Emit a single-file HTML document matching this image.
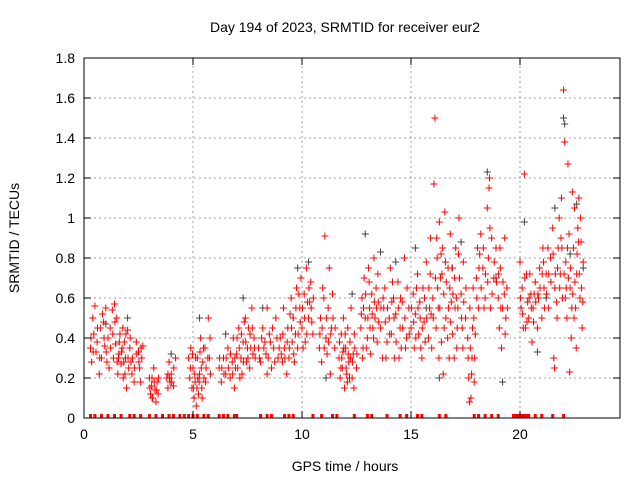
<!DOCTYPE html>
<html><head><meta charset="utf-8"><style>
html,body{margin:0;padding:0;background:#fff;}
svg{display:block;font-family:"Liberation Sans",Arial,sans-serif;}
</style></head><body>
<svg id="chart" width="640" height="480" viewBox="0 0 640 480" xmlns="http://www.w3.org/2000/svg">
<rect x="0" y="0" width="640" height="480" fill="#fff"/>
<g id="grid"></g>
<g id="marks"></g>
<rect x="84" y="58" width="536" height="360" fill="none" stroke="#000" stroke-width="1"/>
<g id="ticks"></g>
<text x="345" y="32" font-size="14" text-anchor="middle">Day 194 of 2023, SRMTID for receiver eur2</text>
<text x="345" y="471" font-size="14" text-anchor="middle">GPS time / hours</text>
<text x="19" y="238" font-size="14" text-anchor="middle" transform="rotate(-90 19 238)">SRMTID / TECUs</text>
</svg>
<script>
const xTicks=[0,5,10,15,20];
const yTicks=[0,0.2,0.4,0.6,0.8,1,1.2,1.4,1.6,1.8];
const yTickLabels=["0","0.2","0.4","0.6","0.8","1","1.2","1.4","1.6","1.8"];
const redPoints=[
[0.3,0.35],[0.35,0.28],[0.4,0.5],[0.45,0.42],[0.5,0.56],[0.55,0.33],[0.6,0.38],[0.7,0.22],[0.75,0.45],[0.8,0.3],[0.85,0.52],[0.9,0.48],[0.95,0.36],[1.0,0.55],[1.05,0.28],[1.1,0.4],[1.15,0.25],[1.2,0.45],[1.3,0.54],[1.35,0.3],[1.4,0.57],[1.45,0.37],[1.5,0.5],[1.55,0.22],[1.6,0.32],[1.65,0.42],[1.7,0.27],[1.75,0.35],[1.8,0.2],[1.85,0.38],[1.9,0.3],[1.95,0.15],[2.0,0.44],[2.05,0.25],[2.1,0.35],[2.15,0.28],[2.2,0.22],[2.3,0.18],[2.4,0.38],[2.5,0.33],[2.55,0.25],[2.6,0.18],[2.65,0.3],[2.7,0.36],
[3.0,0.2],[3.05,0.12],[3.1,0.16],[3.15,0.1],[3.2,0.25],[3.25,0.14],[3.3,0.08],[3.35,0.18],[3.4,0.12],
[3.8,0.2],[3.85,0.15],[3.9,0.28],[3.95,0.18],[4.0,0.22],[4.1,0.16],[4.2,0.3],
[4.8,0.3],[4.85,0.2],[4.9,0.35],[4.95,0.15],[5.0,0.25],[5.05,0.1],[5.1,0.18],[5.15,0.06],[5.2,0.3],[5.25,0.12],[5.3,0.22],[5.35,0.4],[5.4,0.15],[5.45,0.28],[5.5,0.2],[5.55,0.35],[5.6,0.25],[5.7,0.5],[5.75,0.3],[5.8,0.22],
[6.2,0.25],[6.3,0.18],[6.4,0.3],[6.5,0.22],[6.6,0.35],[6.7,0.2],[6.8,0.28],[6.85,0.4],[6.9,0.15],[7.0,0.32],[7.05,0.25],[7.1,0.45],[7.2,0.3],[7.25,0.22],[7.3,0.38],[7.4,0.5],[7.45,0.28],[7.5,0.35],[7.55,0.45],[7.6,0.25],[7.7,0.55],[7.75,0.32],[7.8,0.4],
[8.0,0.35],[8.1,0.28],[8.2,0.45],[8.3,0.38],[8.4,0.55],[8.45,0.3],[8.5,0.42],[8.6,0.25],[8.7,0.35],[8.8,0.5],[8.9,0.3],
[9.0,0.4],[9.1,0.28],[9.15,0.55],[9.2,0.35],[9.3,0.22],[9.35,0.45],[9.4,0.3],[9.5,0.6],[9.55,0.38],[9.6,0.5],[9.7,0.42],[9.75,0.65],[9.8,0.35],[9.9,0.55],[9.95,0.7],[10.0,0.45],[10.1,0.62],[10.15,0.38],[10.2,0.75],[10.3,0.5],[10.35,0.58],[10.4,0.68],[10.5,0.42],
[10.8,0.35],[10.85,0.5],[10.9,0.28],[11.0,0.6],[11.05,0.91],[11.1,0.4],[11.2,0.55],[11.25,0.75],[11.3,0.22],[11.35,0.45],[11.4,0.62],[11.5,0.35],
[11.7,0.3],[11.75,0.2],[11.8,0.42],[11.85,0.25],[11.9,0.5],[11.95,0.15],[12.0,0.35],[12.05,0.22],[12.1,0.45],[12.15,0.28],[12.2,0.38],[12.25,0.55],[12.3,0.2],[12.35,0.32],[12.4,0.42],[12.5,0.25],
[12.7,0.45],[12.75,0.6],[12.8,0.35],[12.85,0.7],[12.9,0.5],[13.0,0.4],[13.05,0.75],[13.1,0.55],[13.15,0.32],[13.2,0.62],[13.25,0.45],[13.3,0.8],[13.35,0.5],[13.4,0.65],[13.45,0.38],[13.5,0.58],
[13.6,0.45],[13.7,0.3],[13.75,0.55],[13.8,0.65],[13.9,0.38],[14.0,0.5],[14.05,0.75],[14.1,0.42],[14.2,0.6],[14.25,0.3],[14.3,0.52],[14.4,0.68],[14.5,0.45],[14.55,0.35],[14.6,0.58],[14.7,0.8],[14.8,0.4],[14.9,0.55],
[15.0,0.45],[15.1,0.62],[15.15,0.35],[15.2,0.52],[15.3,0.72],[15.35,0.42],[15.4,0.58],[15.5,0.3],[15.55,0.65],[15.6,0.48],[15.7,0.78],[15.8,0.4],[15.85,0.55],[15.9,0.9],[15.95,0.35],
[16.0,0.6],[16.05,1.17],[16.1,1.5],[16.15,0.45],[16.2,0.8],[16.25,0.55],[16.3,0.98],[16.35,0.7],[16.4,0.38],[16.45,0.85],[16.5,0.62],[16.55,1.03],[16.6,0.5],[16.7,0.75],[16.75,0.3],[16.8,0.92],[16.85,0.58],[16.9,0.42],[17.0,0.7],[17.05,0.85],[17.1,0.35],[17.15,0.55],[17.2,1.0],[17.3,0.62],[17.35,0.45],[17.4,0.78],[17.5,0.5],
[17.6,0.4],[17.65,0.2],[17.7,0.55],[17.75,0.1],[17.8,0.3],[17.85,0.65],[17.9,0.18],[17.95,0.42],
[18.0,0.7],[18.05,0.85],[18.1,0.55],[18.2,0.92],[18.3,0.75],[18.4,0.6],[18.5,1.05],[18.55,0.8],[18.6,1.2],[18.65,0.55],[18.7,0.9],[18.8,0.7],[18.9,0.85],
[19.0,0.6],[19.05,0.45],[19.1,0.75],[19.15,0.35],[19.2,0.55],[19.3,0.9],[19.35,0.5],[19.4,0.65],
[20.0,0.78],[20.05,0.55],[20.1,0.65],[20.15,0.45],[20.2,1.22],[20.3,0.72],[20.35,0.58],[20.4,0.5],[20.5,0.62],[20.55,0.38],[20.6,0.55],[20.7,0.68],[20.8,0.45],
[20.85,0.6],[20.9,0.75],[21.0,0.5],[21.05,0.85],[21.1,0.65],[21.2,0.72],[21.3,0.55],[21.4,0.8],
[21.5,0.95],[21.55,0.3],[21.6,0.65],[21.7,0.5],[21.75,0.85],[21.8,1.0],[21.85,0.72],[21.9,1.1],[21.95,0.6],
[22.0,1.64],[22.05,1.38],[22.1,0.78],[22.15,0.5],[22.2,1.27],[22.25,0.92],[22.3,0.65],[22.35,0.4],[22.4,1.13],[22.45,0.85],[22.5,1.05],[22.55,0.55],[22.6,0.72],[22.65,0.95],[22.7,1.1],[22.75,0.6],[22.8,0.88],[22.85,0.45]
];
const redPointsExtra=[
[0.32,0.4],[0.42,0.33],[0.62,0.45],[0.72,0.3],[0.92,0.4],[1.02,0.33],[1.22,0.35],[1.32,0.42],[1.42,0.48],[1.52,0.28],[1.62,0.38],[1.72,0.33],[1.82,0.28],[1.92,0.42],[2.02,0.3],[2.12,0.4],[2.22,0.3],[2.32,0.25],[2.42,0.32],[2.52,0.28],[2.62,0.35],[1.88,0.22],[1.78,0.45],[1.58,0.3],
[3.02,0.15],[3.12,0.2],[3.22,0.18],[3.32,0.14],[3.42,0.2],[3.12,0.1],[3.85,0.22],[4.02,0.18],[4.12,0.25],[3.92,0.2],
[4.88,0.25],[4.98,0.32],[5.08,0.22],[5.18,0.15],[5.28,0.18],[5.38,0.25],[5.48,0.35],[5.58,0.18],[5.68,0.3],[5.78,0.4],[5.12,0.3],[5.32,0.33],[5.22,0.2],[5.02,0.15],[5.42,0.1],
[6.22,0.3],[6.32,0.25],[6.42,0.22],[6.52,0.3],[6.62,0.25],[6.72,0.32],[6.82,0.22],[6.92,0.3],[7.02,0.4],[7.12,0.35],[7.22,0.42],[7.32,0.28],[7.42,0.38],[7.52,0.3],[7.62,0.42],[7.72,0.45],[7.82,0.35],[7.35,0.48],[7.15,0.2],[6.95,0.25],[7.65,0.35],[7.85,0.3],
[8.05,0.3],[8.15,0.4],[8.25,0.35],[8.35,0.32],[8.55,0.38],[8.65,0.45],[8.75,0.28],[8.85,0.4],[8.95,0.35],[8.4,0.22],
[9.05,0.32],[9.12,0.42],[9.22,0.3],[9.32,0.38],[9.42,0.35],[9.52,0.45],[9.62,0.32],[9.72,0.55],[9.82,0.42],[9.92,0.48],[10.02,0.55],[10.12,0.5],[10.22,0.42],[10.32,0.65],[10.42,0.55],[10.52,0.6],[9.65,0.28],[9.85,0.62],[10.05,0.35],[10.25,0.58],[10.45,0.48],[9.45,0.52],
[10.82,0.42],[10.92,0.45],[11.02,0.35],[11.12,0.5],[11.22,0.38],[11.32,0.42],[11.42,0.5],[11.52,0.45],[10.95,0.65],[11.15,0.32],
[11.72,0.38],[11.82,0.3],[11.92,0.35],[12.02,0.25],[12.12,0.32],[12.22,0.3],[12.32,0.28],[12.42,0.35],[12.52,0.32],[11.78,0.25],[11.98,0.42],[12.18,0.2],[12.38,0.15],[12.08,0.18],[11.88,0.33],
[12.72,0.52],[12.82,0.55],[12.92,0.62],[13.02,0.5],[13.12,0.45],[13.22,0.52],[13.32,0.58],[13.42,0.55],[13.52,0.48],[12.95,0.35],[13.08,0.68],[13.28,0.4],[13.48,0.72],[12.78,0.3],
[13.62,0.55],[13.72,0.6],[13.82,0.48],[13.92,0.55],[14.02,0.42],[14.12,0.58],[14.22,0.5],[14.32,0.38],[14.42,0.55],[14.52,0.6],[14.62,0.45],[14.72,0.5],[14.82,0.65],[14.92,0.42],[13.85,0.3],[14.15,0.68],[14.45,0.3],[14.75,0.35],
[15.02,0.55],[15.12,0.48],[15.22,0.4],[15.32,0.55],[15.42,0.5],[15.52,0.45],[15.62,0.6],[15.72,0.5],[15.82,0.65],[15.92,0.52],[15.25,0.65],[15.45,0.35],[15.65,0.38],[15.88,0.72],
[16.02,0.5],[16.12,0.7],[16.22,0.65],[16.32,0.55],[16.42,0.72],[16.52,0.45],[16.62,0.68],[16.72,0.55],[16.82,0.48],[16.92,0.62],[17.02,0.55],[17.12,0.45],[17.22,0.7],[17.32,0.5],[17.42,0.58],[17.52,0.65],[16.18,0.9],[16.38,0.82],[16.58,0.78],[16.78,0.65],[16.98,0.3],[17.18,0.82],[17.38,0.35],[16.28,0.3],[16.48,0.22],[16.68,0.4],[16.88,0.75],[17.08,0.6],
[17.62,0.3],[17.72,0.35],[17.82,0.45],[17.92,0.3],[17.68,0.08],[17.78,0.22],[17.88,0.5],
[18.02,0.6],[18.12,0.75],[18.22,0.65],[18.32,0.85],[18.42,0.72],[18.52,0.68],[18.62,0.95],[18.72,0.62],[18.82,0.78],[18.92,0.68],[18.15,0.82],[18.35,0.55],[18.58,1.15],
[19.02,0.72],[19.12,0.55],[19.22,0.68],[19.32,0.42],[19.42,0.55],[19.08,0.85],[19.28,0.62],
[20.02,0.6],[20.12,0.52],[20.22,0.7],[20.32,0.48],[20.42,0.6],[20.52,0.55],[20.62,0.48],[20.72,0.58],[20.82,0.62],[20.25,0.45],[20.45,0.72],[20.65,0.62],
[20.92,0.65],[21.02,0.72],[21.12,0.55],[21.22,0.62],[21.32,0.72],[21.42,0.68],[21.08,0.78],[21.28,0.85],
[21.52,0.82],[21.62,0.72],[21.72,0.75],[21.82,0.65],[21.92,0.85],[21.58,0.25],[21.68,0.58],[21.88,0.9],
[22.02,0.72],[22.12,0.65],[22.22,0.7],[22.32,0.75],[22.42,0.62],[22.52,0.68],[22.62,0.82],[22.72,0.72],[22.82,0.65],[22.9,0.78],[22.18,0.85],[22.38,0.55],[22.58,0.35],[22.78,1.0],[22.08,0.6],[22.28,0.23],[22.48,0.5],[22.68,0.88],[22.88,0.58]
];
const blackPoints=[
[1.0,0.47],[2.0,0.5],[4.0,0.32],[5.3,0.5],[6.5,0.42],[7.3,0.6],[8.2,0.55],[9.8,0.75],[10.3,0.78],[11.1,0.2],[12.3,0.62],[12.9,0.92],[13.6,0.83],[14.3,0.78],[15.2,0.85],[15.7,0.55],[16.3,0.2],[16.9,0.75],[17.3,0.88],[18.5,1.23],[18.9,0.7],[19.2,0.18],[20.2,0.98],[20.8,0.33],[21.2,0.6],[21.6,1.05],[22.0,1.5],[22.05,1.47],[22.3,0.82],[22.6,1.07],[22.9,0.75]
];
const zeroTimes=[0.3,0.5,0.8,1.1,1.4,1.7,2.1,2.3,2.6,3.0,3.3,3.6,3.9,4.1,4.4,4.6,4.8,5.0,5.2,5.5,5.7,6.2,6.4,6.6,6.9,7.0,8.1,8.4,8.6,9.2,9.4,9.6,10.5,10.9,11.4,11.6,12.4,13.0,13.2,13.9,14.5,14.8,15.3,15.5,16.3,16.6,17.9,18.1,18.4,18.7,19.0,19.7,19.8,19.9,20.0,20.1,20.2,20.3,20.4,20.7,21.0,21.5,22.0];

const NS="http://www.w3.org/2000/svg";
const X0=84,X1=620,Y0=418,Y1=58;
function sx(v){return X0+v*(302-84)/10;}
function sy(v){return Y0-v*(Y0-Y1)/1.8;}
function mk(tag,attrs,parent){const e=document.createElementNS(NS,tag);for(const k in attrs)e.setAttribute(k,attrs[k]);parent.appendChild(e);return e;}
const grid=document.getElementById('grid'),ticks=document.getElementById('ticks'),marks=document.getElementById('marks');
xTicks.forEach(t=>{
  const x=sx(t);
  if(t>0){const g=mk('line',{x1:x,y1:Y0,x2:x,y2:Y1,stroke:'#a0a0a0','stroke-dasharray':'2,3','stroke-width':1},grid);
  
  }
  mk('line',{x1:x,y1:Y0,x2:x,y2:Y0-7,stroke:'#000'},ticks);
  mk('line',{x1:x,y1:Y1,x2:x,y2:Y1+7,stroke:'#000'},ticks);
  const l=mk('text',{x:x,y:Y0+21,'font-size':14,'text-anchor':'middle'},ticks);l.textContent=String(t);
  
  
});
yTicks.forEach((t,i)=>{
  const y=sy(t);
  if(t>0&&t<1.8){const g=mk('line',{x1:X0,y1:y,x2:X1,y2:y,stroke:'#a0a0a0','stroke-dasharray':'2,3','stroke-width':1},grid);
  
  }
  mk('line',{x1:X0,y1:y,x2:X0+7,y2:y,stroke:'#000'},ticks);
  mk('line',{x1:X1,y1:y,x2:X1-7,y2:y,stroke:'#000'},ticks);
  const l=mk('text',{x:X0-9,y:y+5,'font-size':14,'text-anchor':'end'},ticks);l.textContent=yTickLabels[i];
  
  
});
function plus(x,y,color,name){
  const p=mk('path',{d:`M${x-3.5},${y}h7M${x},${y-3.5}v7`,stroke:color,'stroke-width':1,fill:'none'},marks);
  
  
}
blackPoints.forEach(d=>plus(sx(d[0]),sy(d[1]),'#404040','black-point'));
redPoints.forEach(d=>plus(sx(d[0]),sy(d[1]),'#ff0000','red-point'));
redPointsExtra.forEach(d=>plus(sx(d[0]),sy(d[1]),'#ff0000','red-point'));
zeroTimes.forEach(t=>{
  const r=mk('rect',{x:sx(t)-1.5,y:Y0-4,width:3,height:4,fill:'#ff0000'},marks);
  
  
});
</script>
</body></html>
